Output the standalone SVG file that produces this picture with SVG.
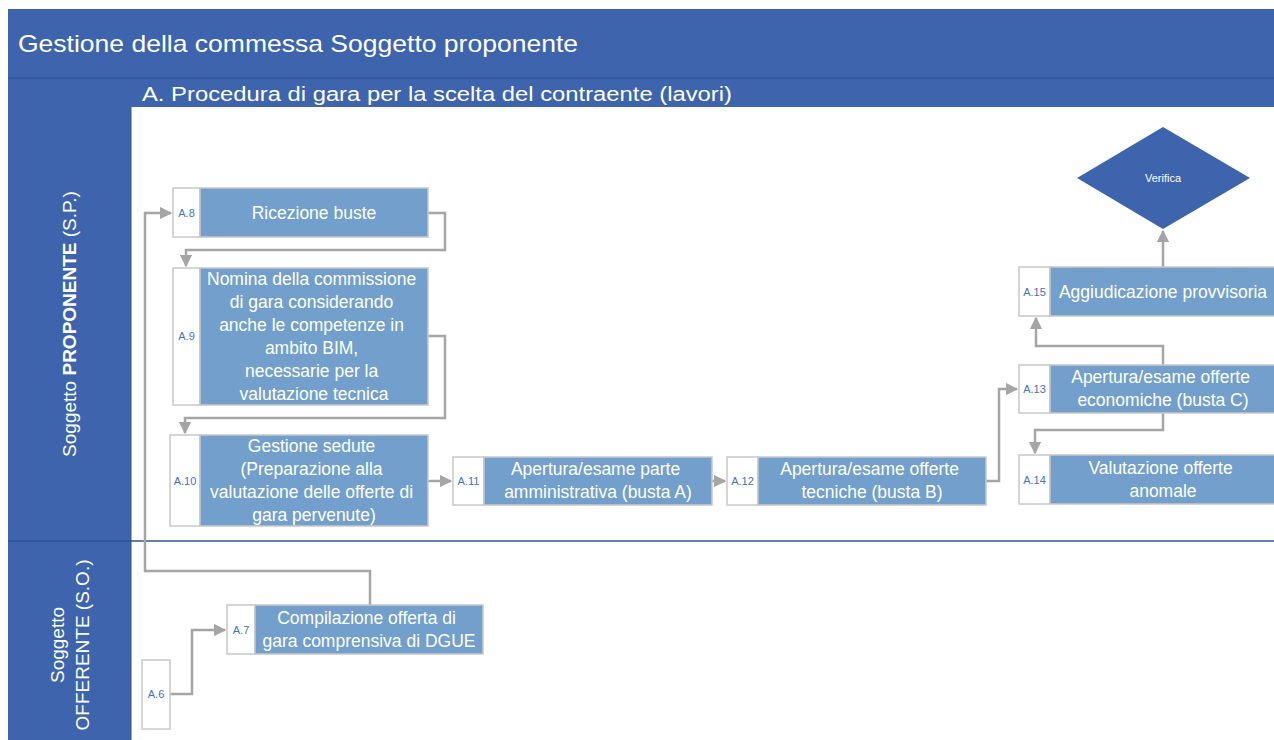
<svg xmlns="http://www.w3.org/2000/svg" width="1274" height="740" viewBox="0 0 1274 740">
  <defs>
    <marker id="arr" viewBox="0 0 10 10" refX="9" refY="5" markerWidth="5" markerHeight="5" orient="auto" markerUnits="strokeWidth">
      <path d="M0,0 L10,5 L0,10 z" fill="#A5A5A5"/>
    </marker>
    <style>
      .band { fill: #3E64AD; }
      .sep { stroke: #2F5597; stroke-width: 1.5; fill: none; }
      .hdr { font-family: "Liberation Sans", Arial, sans-serif; fill: #FFFFFF; }
      .lane { font-family: "Liberation Sans", Arial, sans-serif; fill: #FFFFFF; font-size: 19px; }
      .tag { fill: #FFFFFF; stroke: #C8C8C8; stroke-width: 1.5; }
      .box { fill: #739FCC; stroke: #C8C8C8; stroke-width: 1.5; }
      .id { font-family: "Liberation Sans", Arial, sans-serif; font-size: 11px; fill: #4472C4; text-anchor: middle; }
      .txt { font-family: "Liberation Sans", Arial, sans-serif; font-size: 17.5px; fill: #FFFFFF; text-anchor: middle; }
      .conn { fill: none; stroke: #A5A5A5; stroke-width: 2.5; stroke-linejoin: miter; }
    </style>
  </defs>

  <rect width="1274" height="740" fill="#FFFFFF"/>

  <!-- header bands -->
  <rect class="band" x="8" y="9" width="1266" height="69"/>
  <rect class="band" x="8" y="78" width="1266" height="29"/>
  <line class="sep" x1="8" y1="78" x2="1274" y2="78"/>
  <text class="hdr" x="18" y="52" font-size="24" textLength="560" lengthAdjust="spacingAndGlyphs">Gestione della commessa Soggetto proponente</text>
  <text class="hdr" x="142" y="101" font-size="20" textLength="590" lengthAdjust="spacingAndGlyphs">A. Procedura di gara per la scelta del contraente (lavori)</text>

  <!-- swimlane headers -->
  <rect class="band" x="8" y="107" width="123" height="633"/>
  <line class="sep" x1="8" y1="541" x2="1274" y2="541"/>
  <line x1="131" y1="107" x2="131" y2="740" stroke="#2F5597" stroke-width="1"/>
  <text class="lane" transform="translate(76,324) rotate(-90)" text-anchor="middle">Soggetto <tspan font-weight="bold">PROPONENTE</tspan> (S.P.)</text>
  <text class="lane" transform="translate(64,645) rotate(-90)" text-anchor="middle">Soggetto</text>
  <text class="lane" transform="translate(89,645) rotate(-90)" text-anchor="middle">OFFERENTE (S.O.)</text>

  <!-- connectors -->
  <g id="connectors">
    <path class="conn" d="M428,213 H445 V250 H186 V266" marker-end="url(#arr)"/>
    <path class="conn" d="M428,336 H445 V418 H185 V433" marker-end="url(#arr)"/>
    <path class="conn" d="M428,481 H451" marker-end="url(#arr)"/>
    <path class="conn" d="M712,481 H725" marker-end="url(#arr)"/>
    <path class="conn" d="M986,481 H999 V389 H1017" marker-end="url(#arr)"/>
    <path class="conn" d="M1163,365 V346 H1036 V318" marker-end="url(#arr)"/>
    <path class="conn" d="M1163,413 V430 H1035 V453" marker-end="url(#arr)"/>
    <path class="conn" d="M1163,267 V231" marker-end="url(#arr)"/>
    <path class="conn" d="M370,605 V571 H145 V213 H171" marker-end="url(#arr)"/>
    <path class="conn" d="M170,694 H192 V630 H225" marker-end="url(#arr)"/>
  </g>

  <!-- decision -->
  <g id="verifica">
    <polygon points="1163,127 1250,178 1163,229 1077,178" fill="#3E64AD"/>
    <text x="1163" y="182" font-family="Liberation Sans, Arial, sans-serif" font-size="11" fill="#FFFFFF" text-anchor="middle">Verifica</text>
  </g>

  <!-- activity nodes -->
  <g id="A8">
    <rect class="tag" x="173" y="188" width="27" height="49"/>
    <rect class="box" x="200" y="188" width="228" height="49"/>
    <text class="id" x="186.5" y="217">A.8</text>
    <text class="txt" x="314" y="219">Ricezione buste</text>
  </g>

  <g id="A9">
    <rect class="tag" x="173" y="268" width="27" height="137"/>
    <rect class="box" x="200" y="268" width="228" height="137"/>
    <text class="id" x="186.5" y="340">A.9</text>
    <text class="txt">
      <tspan x="314" y="285">Nomina della commissione</tspan>
      <tspan x="314" y="308">di gara considerando</tspan>
      <tspan x="314" y="331">anche le competenze in</tspan>
      <tspan x="314" y="354">ambito BIM,</tspan>
      <tspan x="314" y="377">necessarie per la</tspan>
      <tspan x="314" y="400">valutazione tecnica</tspan>
    </text>
  </g>

  <g id="A10">
    <rect class="tag" x="170" y="435" width="30" height="91"/>
    <rect class="box" x="200" y="435" width="228" height="91"/>
    <text class="id" x="185" y="485">A.10</text>
    <text class="txt">
      <tspan x="314" y="452">Gestione sedute</tspan>
      <tspan x="314" y="475">(Preparazione alla</tspan>
      <tspan x="314" y="498">valutazione delle offerte di</tspan>
      <tspan x="314" y="521">gara pervenute)</tspan>
    </text>
  </g>

  <g id="A11">
    <rect class="tag" x="453" y="457" width="31" height="48"/>
    <rect class="box" x="484" y="457" width="228" height="48"/>
    <text class="id" x="468.5" y="485">A.11</text>
    <text class="txt">
      <tspan x="598" y="475">Apertura/esame parte</tspan>
      <tspan x="598" y="498">amministrativa (busta A)</tspan>
    </text>
  </g>

  <g id="A12">
    <rect class="tag" x="727" y="457" width="31" height="48"/>
    <rect class="box" x="758" y="457" width="228" height="48"/>
    <text class="id" x="742.5" y="485">A.12</text>
    <text class="txt">
      <tspan x="872" y="475">Apertura/esame offerte</tspan>
      <tspan x="872" y="498">tecniche (busta B)</tspan>
    </text>
  </g>

  <g id="A13">
    <rect class="tag" x="1019" y="365" width="31" height="48"/>
    <rect class="box" x="1050" y="365" width="226" height="48"/>
    <text class="id" x="1034.5" y="393">A.13</text>
    <text class="txt">
      <tspan x="1163" y="383">Apertura/esame offerte</tspan>
      <tspan x="1163" y="406">economiche (busta C)</tspan>
    </text>
  </g>

  <g id="A14">
    <rect class="tag" x="1019" y="455" width="31" height="49"/>
    <rect class="box" x="1050" y="455" width="226" height="49"/>
    <text class="id" x="1034.5" y="484">A.14</text>
    <text class="txt">
      <tspan x="1163" y="474">Valutazione offerte</tspan>
      <tspan x="1163" y="497">anomale</tspan>
    </text>
  </g>

  <g id="A15">
    <rect class="tag" x="1019" y="267" width="31" height="49"/>
    <rect class="box" x="1050" y="267" width="226" height="49"/>
    <text class="id" x="1034.5" y="296">A.15</text>
    <text class="txt" x="1163" y="298">Aggiudicazione provvisoria</text>
  </g>

  <g id="A7">
    <rect class="tag" x="227" y="605" width="28" height="49"/>
    <rect class="box" x="255" y="605" width="228" height="49"/>
    <text class="id" x="241" y="634">A.7</text>
    <text class="txt">
      <tspan x="369" y="624">Compilazione offerta di</tspan>
      <tspan x="369" y="647">gara comprensiva di DGUE</tspan>
    </text>
  </g>

  <g id="A6">
    <rect class="tag" x="142" y="660" width="28" height="69"/>
    <text class="id" x="156" y="698">A.6</text>
  </g>
</svg>
